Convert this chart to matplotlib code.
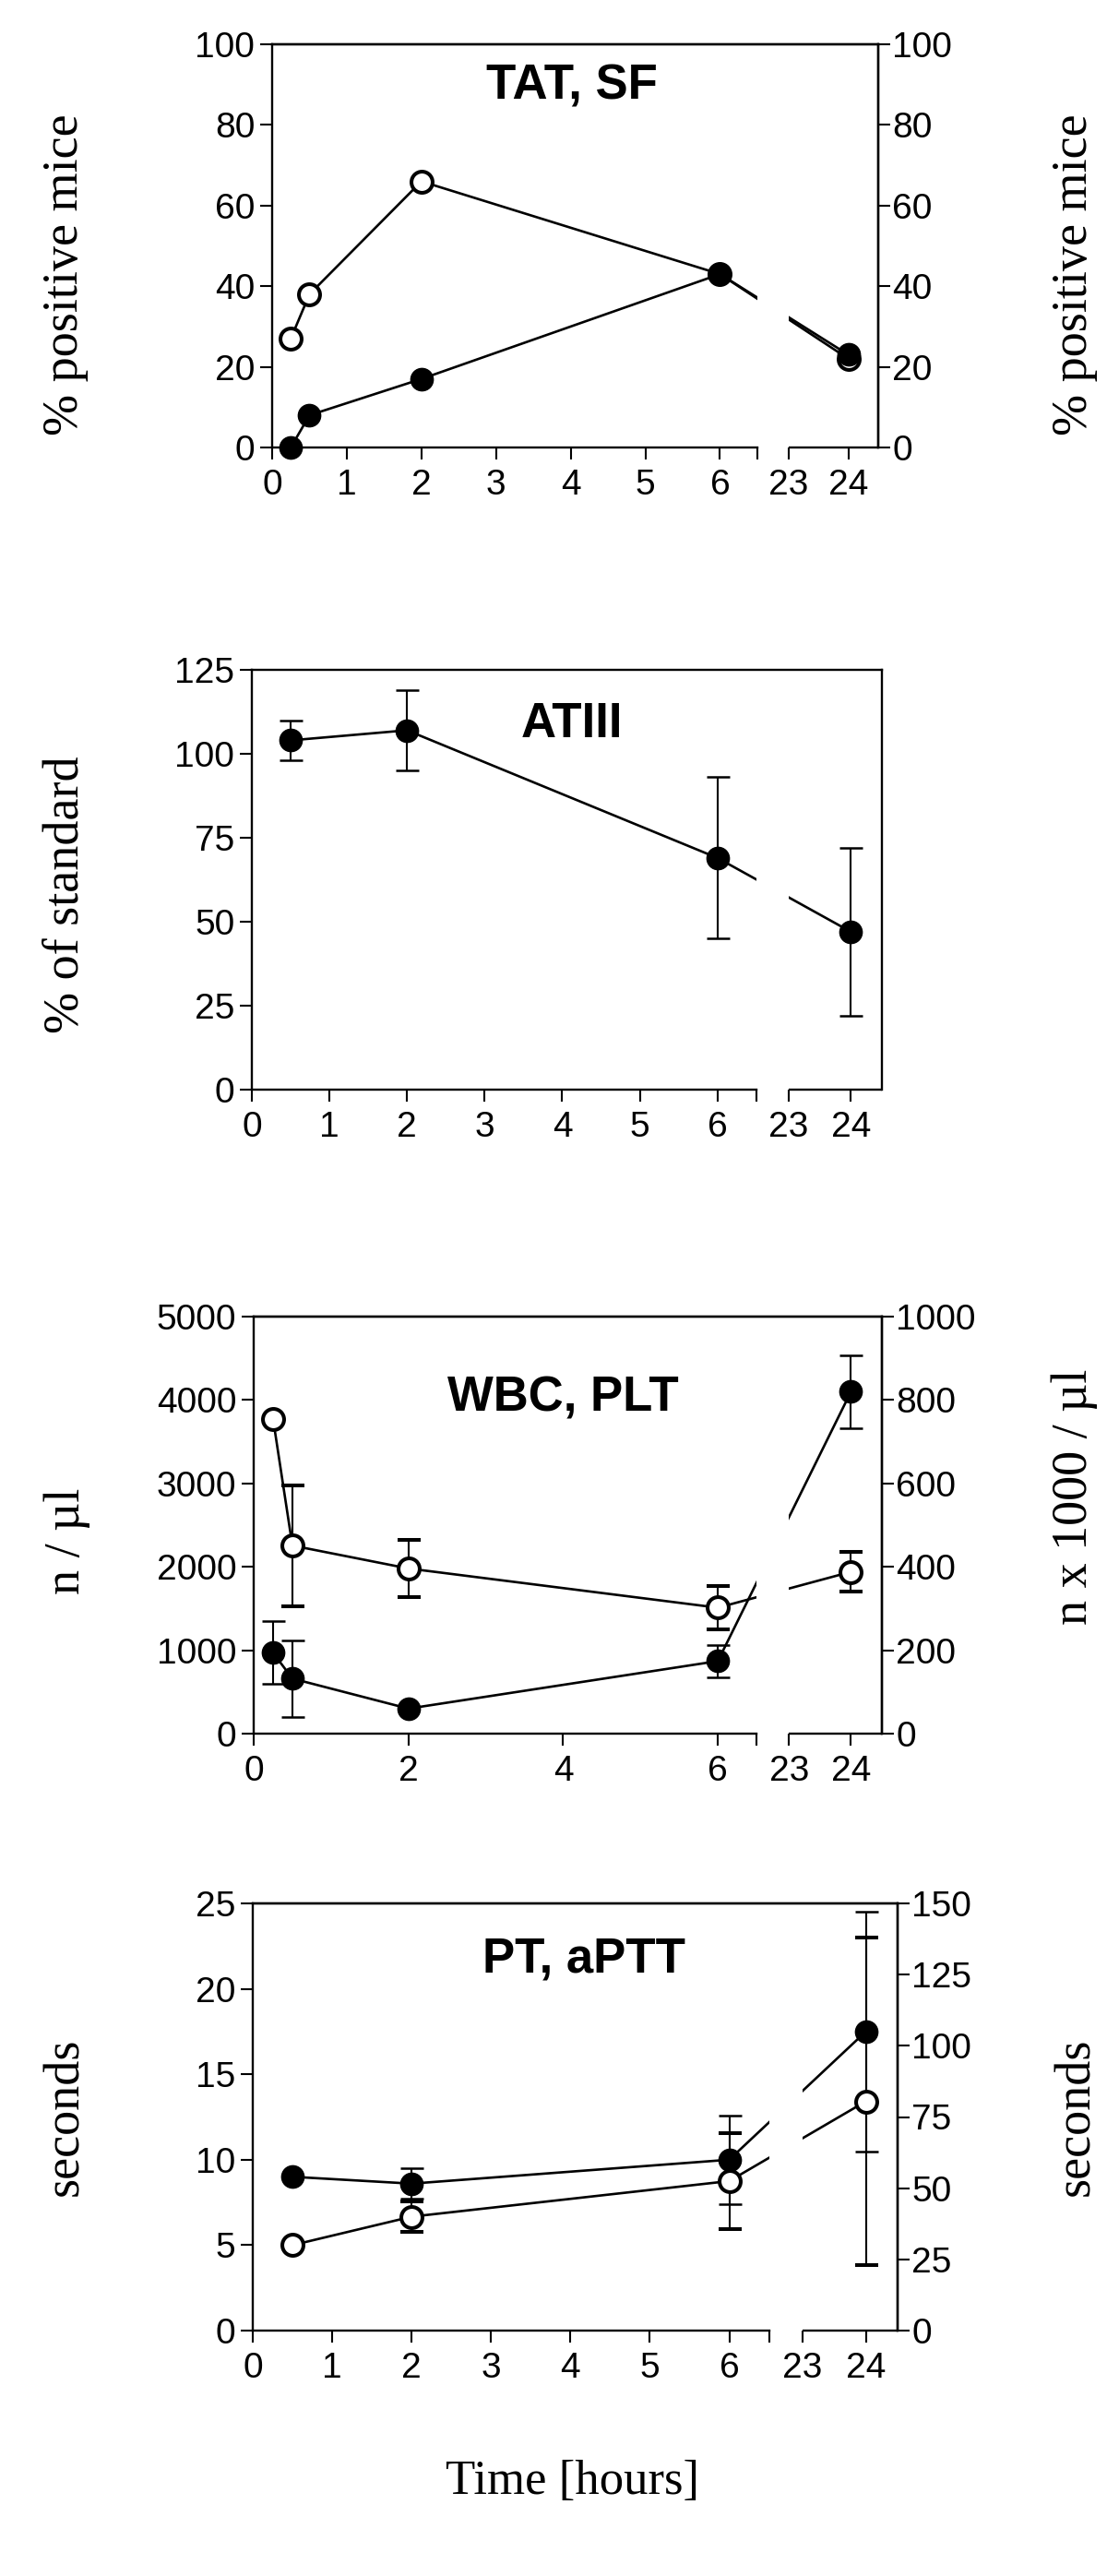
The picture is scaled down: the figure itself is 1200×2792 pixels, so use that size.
import numpy as np
import matplotlib
matplotlib.use('Agg')
import matplotlib.pyplot as plt

# ---- data ----
# TAT, SF : % positive mice
t_tat = [0.25, 0.5, 2, 6, 24]
sf_open = [27, 38, 66, 43, 22]
tat_filled = [0, 8, 17, 43, 23]

# ATIII : % of standard
t_at = [0.5, 2, 6, 24]
at_mean = [104, 107, 69, 47]
at_err = [6, 12, 24, 25]

# WBC (left, n/ul, filled) and PLT (right, n x 1000/ul, open)
t_blood = [0.25, 0.5, 2, 6, 24]
wbc_mean = [970, 660, 300, 870, 4100]
wbc_err = [375, 460, np.nan, 195, 440]
plt_mean = [755, 451, 396, 302, 388]
plt_err = [np.nan, 145, 68, 51, 47]

# PT (left, seconds, filled) and aPTT (right, seconds, open)
t_coag = [0.5, 2, 6, 24]
pt_mean = [9.0, 8.6, 10.0, 17.5]
pt_err = [np.nan, 0.9, 2.6, 7.0]
aptt_mean = [30, 40, 52.5, 80.5]
aptt_err = [np.nan, 5.4, 16.8, 57.6]

hour_ticks = [0, 1, 2, 3, 4, 5, 6, 6.5, 23, 24]
hour_labels = ['0', '1', '2', '3', '4', '5', '6', '', '23', '24']
even_ticks = [0, 2, 4, 6, 6.5, 23, 24]
even_labels = ['0', '2', '4', '6', '', '23', '24']

# ---- broken time axis: 0-6.5 h, gap, 23-24.5 h ----
BRK_LO, BRK_HI, GAP, K = 6.5, 23.0, 0.42, 0.80


def fwd(t):
    t = np.asarray(t, dtype=float)
    return np.where(t <= BRK_LO, t,
                    np.where(t >= BRK_HI, BRK_LO + GAP + (t - BRK_HI) * K,
                             BRK_LO + (t - BRK_LO) * GAP / (BRK_HI - BRK_LO)))


def inv(u):
    u = np.asarray(u, dtype=float)
    return np.where(u <= BRK_LO, u,
                    np.where(u >= BRK_LO + GAP, BRK_HI + (u - BRK_LO - GAP) / K,
                             BRK_LO + (u - BRK_LO) * (BRK_HI - BRK_LO) / GAP))


plt.rcParams['font.family'] = ['Liberation Sans', 'DejaVu Sans']
W, H = 1200, 2792
fig = plt.figure(figsize=(W / 100, H / 100), dpi=100)
LW_AX = 1.7
SERIF = ['Liberation Serif', 'DejaVu Serif']


def rect(l, r, t, b):
    return [l / W, 1 - b / H, (r - l) / W, (b - t) / H]


def style(ax, xt, xl, twin=None):
    ax.set_xscale('function', functions=(fwd, inv))
    ax.set_xlim(0, 24.5)
    ax.set_xticks(xt, xl)
    ax.set_xticks([BRK_LO, BRK_HI], minor=True)
    ax.tick_params(which='major', direction='out', length=9.5, width=1.5, labelsize=28)
    ax.tick_params(axis='x', which='minor', direction='in', length=5, width=1.5)
    ax.tick_params(axis='x', pad=7)
    ax.tick_params(axis='y', pad=4)
    for s in ax.spines.values():
        s.set_linewidth(LW_AX)
    ax.spines['bottom'].set_bounds(0, BRK_LO)
    ax.plot([BRK_HI, 24.5], [0, 0], transform=ax.get_xaxis_transform(), color='black',
            lw=LW_AX, solid_capstyle='butt', clip_on=False, zorder=2.5)
    top = ax
    if twin is not None:
        twin.tick_params(which='major', direction='out', length=9.5, width=1.5,
                         labelsize=28, pad=1.5)
        for name, s in twin.spines.items():
            s.set_linewidth(LW_AX)
            s.set_visible(name in ('right', 'top'))
        top = twin
    # white band that interrupts the lines across the axis break
    top.axvspan(BRK_LO, BRK_HI, ymin=0.03, ymax=0.99, color='white', lw=0, zorder=2.2)
    ax.set_xlim(0, 24.5)


def title(x, y, s):
    fig.text(x / W, 1 - y / H, s, ha='center', va='baseline', fontsize=38, fontweight='bold')


def ylab(x, y, s):
    fig.text(x / W, 1 - y / H, s, ha='center', va='center', rotation=90,
             fontsize=39, family=SERIF)


LW = 1.9
MS = 17.5
filled = dict(fmt='o-', color='black', lw=LW, ms=MS, mfc='black', mec='black',
              elinewidth=1.5, capsize=9, capthick=1.8, clip_on=False)
opened = dict(fmt='o-', color='black', lw=LW, ms=MS - 1, mfc='white', mec='black', mew=2.9,
              elinewidth=1.5, capsize=9, capthick=1.8, clip_on=False)

# ---- panel 1: TAT, SF ----
ax1 = fig.add_axes(rect(295, 952, 48, 485))
ax1.set_xscale('function', functions=(fwd, inv))
ax1r = ax1.twinx()
ax1.plot(t_tat, sf_open, 'o-', color='black', lw=LW, ms=MS - 1, mfc='white', mec='black',
         mew=2.9, clip_on=False)
ax1.plot(t_tat, tat_filled, 'o-', color='black', lw=LW, ms=MS, mfc='black', mec='black',
         clip_on=False)
ax1.set_ylim(0, 100)
ax1r.set_ylim(0, 100)
ax1.set_yticks(range(0, 101, 20))
ax1r.set_yticks(range(0, 101, 20))
style(ax1, hour_ticks, hour_labels, ax1r)
title(620, 108, 'TAT, SF')
ylab(71, 298, '% positive mice')
ylab(1165, 298, '% positive mice')

# ---- panel 2: ATIII ----
ax2 = fig.add_axes(rect(273, 956, 726, 1181))
ax2.set_xscale('function', functions=(fwd, inv))
ax2.errorbar(t_at, at_mean, yerr=at_err, **filled)
ax2.set_ylim(0, 125)
ax2.set_yticks(range(0, 126, 25))
style(ax2, hour_ticks, hour_labels)
title(620, 799, 'ATIII')
ylab(71, 970, '% of standard')

# ---- panel 3: WBC, PLT ----
ax3 = fig.add_axes(rect(275, 956, 1427, 1879))
ax3.set_xscale('function', functions=(fwd, inv))
ax3r = ax3.twinx()
ax3.errorbar(t_blood, wbc_mean, yerr=wbc_err, **filled)
ax3r.errorbar(t_blood, plt_mean, yerr=plt_err, **opened)
ax3.set_ylim(0, 5000)
ax3r.set_ylim(0, 1000)
ax3.set_yticks(range(0, 5001, 1000))
ax3r.set_yticks(range(0, 1001, 200))
style(ax3, even_ticks, even_labels, ax3r)
title(610, 1529, 'WBC, PLT')
ylab(73, 1670, 'n / µl')
ylab(1165, 1622, 'n x 1000 / µl')

# ---- panel 4: PT, aPTT ----
ax4 = fig.add_axes(rect(274, 973, 2063, 2526))
ax4.set_xscale('function', functions=(fwd, inv))
ax4r = ax4.twinx()
ax4.errorbar(t_coag, pt_mean, yerr=pt_err, **filled)
ax4r.errorbar(t_coag, aptt_mean, yerr=aptt_err, **opened)
ax4.set_ylim(0, 25)
ax4r.set_ylim(0, 150)
ax4.set_yticks(range(0, 26, 5))
ax4r.set_yticks(range(0, 151, 25))
style(ax4, hour_ticks, hour_labels, ax4r)
title(633, 2137, 'PT, aPTT')
ylab(71, 2294, 'seconds')
ylab(1167, 2294, 'seconds')

fig.text(620 / W, 1 - 2703 / H, 'Time [hours]', ha='center', va='baseline',
         fontsize=38, family=SERIF)

fig.savefig('out.png', dpi=100, facecolor='white')
